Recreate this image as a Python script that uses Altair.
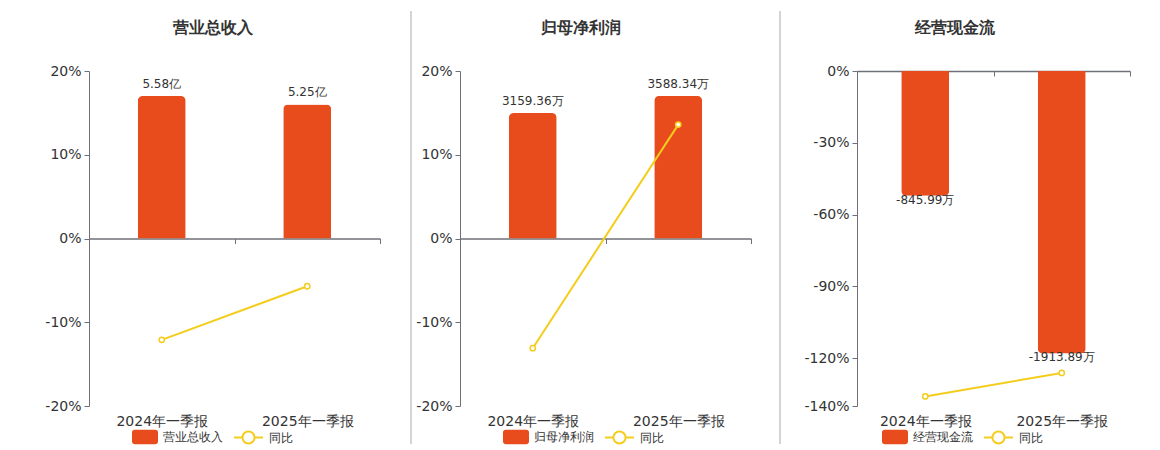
import altair as alt
import pandas as pd

periods = ["2024年一季报", "2025年一季报"]

titles = ["营业总收入", "归母净利润", "经营现金流"]

rev_vals = [5.58, 5.25]
rev_labels = ["5.58亿", "5.25亿"]
rev_yoy = [-12.1, -5.7]

np_vals = [3159.36, 3588.34]
np_labels = ["3159.36万", "3588.34万"]
np_yoy = [-13.1, 13.6]

cf_vals = [-845.99, -1913.89]
cf_labels = ["-845.99万", "-1913.89万"]
cf_yoy = [-136.0, -126.2]

BAR = "#E84B1C"
LINE = "#F4CD1C"
AX = "#6E7079"
GRID = "#E0E6F1"
TXT = "#333333"
FONT = "DejaVu Sans"

RECT = ("M-0.8,-0.55H0.8A0.2,0.2 0 0 1 1,-0.35V0.35A0.2,0.2 0 0 1 0.8,0.55"
        "H-0.8A0.2,0.2 0 0 1 -1,0.35V-0.35A0.2,0.2 0 0 1 -0.8,-0.55Z")
LSYM = ("M-1,0H-0.42M0.42,0H1M-0.42,0A0.42,0.42 0 1 1 0.42,0"
        "A0.42,0.42 0 1 1 -0.42,0")


def panel(name, vals, labels, yoy, bar_dom, y_dom, y_ticks, width, height,
          zero_from_top, negative, sep_x, sep_op, leg_x1, leg_x2):
    df = pd.DataFrame({
        "period": periods,
        "value": vals,
        "label": labels,
        "yoy": yoy,
        "series": [name] * len(periods),
        "s2": ["同比"] * len(periods),
    })
    base = alt.Chart(df)
    off = -(height - zero_from_top)
    x = alt.X(
        "period:N", sort=periods,
        scale=alt.Scale(paddingInner=0, paddingOuter=0),
        axis=alt.Axis(title=None, orient="bottom", offset=off,
                      labelPadding=-off + 3, domainColor=AX, domainWidth=1.5,
                      tickColor=AX, tickSize=5, tickBand="extent",
                      labelFontSize=14, labelColor=TXT, labelFont=FONT,
                      labelAngle=0, grid=False),
    )
    ybar = alt.Y("value:Q", scale=alt.Scale(domain=bar_dom, nice=False, zero=True), axis=None)
    if negative:
        bar_kw = dict(size=48, cornerRadiusBottomLeft=5, cornerRadiusBottomRight=5)
        txt_kw = dict(baseline="top", dy=-1, fontSize=12, color=TXT, font=FONT)
    else:
        bar_kw = dict(size=48, cornerRadiusTopLeft=5, cornerRadiusTopRight=5)
        txt_kw = dict(baseline="bottom", dy=-5, fontSize=12, color=TXT, font=FONT)
    bars = base.mark_bar(**bar_kw).encode(
        x=x, y=ybar,
        fill=alt.Fill("series:N", scale=alt.Scale(domain=[name], range=[BAR]),
                      legend=alt.Legend(title=None, orient="none", legendX=leg_x1,
                                        legendY=height + 18, symbolType=RECT,
                                        symbolSize=676, symbolStrokeWidth=0,
                                        labelFontSize=12, labelColor=TXT,
                                        labelFont=FONT, labelOffset=5)),
    )
    texts = base.mark_text(**txt_kw).encode(
        x=alt.X("period:N", sort=periods), y=ybar, text="label:N",
    )
    yl = alt.Y(
        "yoy:Q", scale=alt.Scale(domain=y_dom, nice=False, zero=False),
        axis=alt.Axis(title=None, values=y_ticks, labelExpr="datum.value + '%'",
                      domainColor=AX, tickColor=AX, tickSize=5, gridColor=GRID,
                      labelFontSize=14, labelColor=TXT, labelFont=FONT,
                      labelPadding=3),
    )
    line = base.mark_line(
        strokeWidth=2,
        point=alt.OverlayMarkDef(filled=False, fill="white", size=28, strokeWidth=1.5),
    ).encode(
        x=alt.X("period:N", sort=periods), y=yl,
        stroke=alt.Stroke("s2:N", scale=alt.Scale(domain=["同比"], range=[LINE]),
                          legend=alt.Legend(title=None, orient="none", legendX=leg_x2,
                                            legendY=height + 16, symbolType=LSYM,
                                            symbolSize=841, symbolStrokeWidth=2,
                                            symbolFillColor="white",
                                            labelFontSize=12, labelColor=TXT,
                                            labelFont=FONT, labelOffset=5)),
    )
    sep = alt.Chart(pd.DataFrame({"k": [0]})).mark_rule(
        color="#AAAAAA", strokeWidth=1, opacity=sep_op).encode(
        x=alt.value(sep_x), y=alt.value(-60), y2=alt.value(height + 38))
    return alt.layer(bars, texts, line, sep).resolve_scale(y="independent").properties(
        width=width, height=height,
        title=alt.TitleParams(name, fontSize=16, fontWeight="bold", color=TXT,
                              font=FONT, frame="bounds", anchor="middle", offset=-25),
    )


H = 335
p1 = panel(titles[0], rev_vals, rev_labels, rev_yoy, [-6.56, 6.56], [-20, 20],
           [-20, -10, 0, 10, 20], 291, H, 167.5, False, 0, 0, 43, 144)
p2 = panel(titles[1], np_vals, np_labels, np_yoy, [-4216, 4216], [-20, 20],
           [-20, -10, 0, 10, 20], 291, H, 167.5, False, -49, 1, 43, 144)
p3 = panel(titles[2], cf_vals, cf_labels, cf_yoy, [-2270, 0], [-140, 0],
           [0, -30, -60, -90, -120, -140], 273, H, 0, True, -77, 1, 25, 126)

left = alt.hconcat(p1, p2, spacing=29).resolve_scale(fill="independent", stroke="independent")
chart = alt.hconcat(left, p3, spacing=27).resolve_scale(
    fill="independent", stroke="independent"
).properties(
    padding={"left": 36, "top": 2, "right": 5, "bottom": 0}
).configure(font=FONT).configure_view(strokeWidth=0)

chart.save("out.html", embed_options={"renderer": "svg", "actions": False})
